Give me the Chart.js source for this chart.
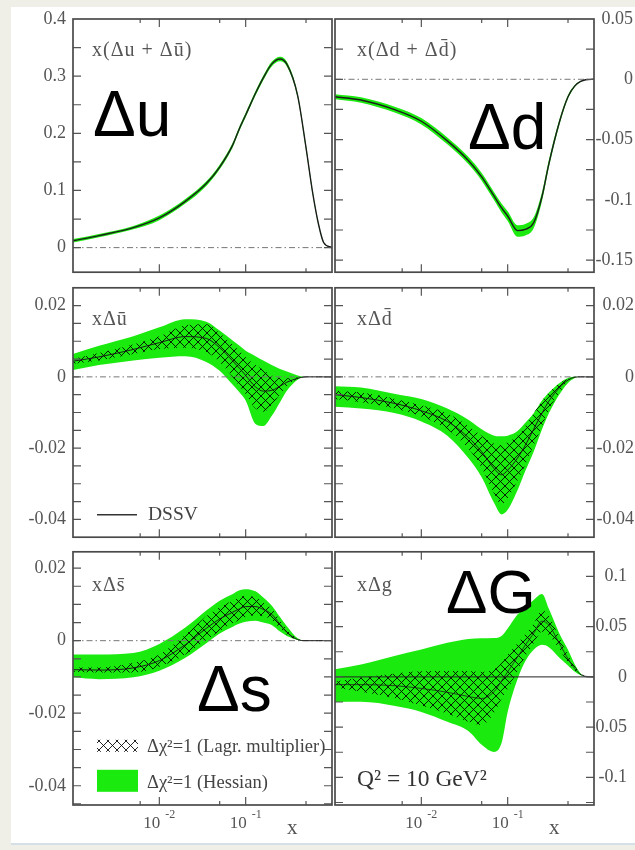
<!DOCTYPE html>
<html>
<head>
<meta charset="utf-8">
<script src="https://cdn.jsdelivr.net/npm/chart.js@4.4.1/dist/chart.umd.min.js"></script>
<style>
  html, body { margin: 0; padding: 0; }
  body { width: 635px; height: 850px; background: #efefe8; position: relative; overflow: hidden; }
  #sheet { position: absolute; left: 11px; top: 7px; width: 624px; height: 836px; background: #fff; border-bottom: 2px solid #d5dfe6; }
  canvas { position: absolute; }
  .big { position: absolute; font-family: "Liberation Sans", Arial, sans-serif; font-size: 64px; line-height: 1; color: #000; white-space: nowrap; }
</style>
</head>
<body>
<div id="sheet"></div>
<canvas id="pUV" width="334" height="290" style="left:0;top:0"></canvas>
<canvas id="pDV" width="301" height="290" style="left:334px;top:0"></canvas>
<canvas id="pUB" width="334" height="285" style="left:0;top:270px"></canvas>
<canvas id="pDB" width="301" height="285" style="left:334px;top:270px"></canvas>
<canvas id="pSB" width="334" height="316" style="left:0;top:534px"></canvas>
<canvas id="pG" width="301" height="316" style="left:334px;top:534px"></canvas>
<div class="big" style="left:93px;top:82px">Δu</div>
<div class="big" style="left:468px;top:95px">Δd</div>
<div class="big" style="left:197px;top:657px">Δs</div>
<div class="big" style="left:446px;top:561px;font-size:62px">ΔG</div>
<script>
// x grid shared by all panels (momentum fraction x)
const xGrid = [0.001, 0.002, 0.005, 0.01, 0.02, 0.035, 0.05, 0.07, 0.085, 0.1, 0.13, 0.16, 0.2, 0.25, 0.3, 0.4, 0.5, 0.6, 0.7, 0.8, 1.0];

// x(Δu + Δū)
const uvCentral = [0.012, 0.021, 0.035, 0.052, 0.081, 0.112, 0.141, 0.178, 0.209, 0.232, 0.27, 0.297, 0.321, 0.33, 0.321, 0.266, 0.175, 0.094, 0.04, 0.009, 0];
const uvHessHi = [0.015, 0.024, 0.038, 0.056, 0.085, 0.116, 0.145, 0.182, 0.213, 0.236, 0.274, 0.301, 0.325, 0.334, 0.325, 0.27, 0.179, 0.097, 0.042, 0.01, 0];
const uvHessLo = [0.009, 0.018, 0.032, 0.048, 0.077, 0.108, 0.137, 0.174, 0.205, 0.228, 0.266, 0.293, 0.317, 0.326, 0.317, 0.262, 0.171, 0.091, 0.038, 0.008, 0];

// x(Δd + Δd̄)
const dvCentral = [-0.0145, -0.0172, -0.0254, -0.0348, -0.0511, -0.0673, -0.0809, -0.0972, -0.1067, -0.1134, -0.1255, -0.1245, -0.119, -0.0972, -0.0701, -0.0348, -0.0145, -0.0055, -0.0018, -0.0004, 0];
const dvHessHi = [-0.0125, -0.015, -0.023, -0.0322, -0.0483, -0.0643, -0.0777, -0.0938, -0.103, -0.1095, -0.121, -0.12, -0.1145, -0.0935, -0.067, -0.0325, -0.013, -0.0047, -0.0014, -0.0003, 0];
const dvHessLo = [-0.0165, -0.0194, -0.0278, -0.0374, -0.0539, -0.0703, -0.0841, -0.1006, -0.1104, -0.1175, -0.1305, -0.1295, -0.1235, -0.101, -0.0732, -0.0371, -0.016, -0.0063, -0.0022, -0.0005, 0];

// xΔū
const ubCentral = [0.0044, 0.0056, 0.0077, 0.0096, 0.0113, 0.0108, 0.0082, 0.0046, 0.0024, 0.0004, -0.0028, -0.004, -0.0038, -0.0026, -0.0015, -0.0004, 0, 0, 0, 0, 0];
const ubHessHi = [0.0064, 0.0087, 0.0114, 0.0139, 0.0162, 0.0155, 0.013, 0.0103, 0.0087, 0.0073, 0.0058, 0.0046, 0.0033, 0.0022, 0.0015, 0.0004, 0, 0, 0, 0, 0];
const ubHessLo = [0.0019, 0.0033, 0.0046, 0.0054, 0.0058, 0.0042, 0.0017, -0.0021, -0.0044, -0.0066, -0.0132, -0.0138, -0.011, -0.0071, -0.0039, -0.0008, 0, 0, 0, 0, 0];
const ubLagrHi = [0.0051, 0.0067, 0.0091, 0.0114, 0.0145, 0.0148, 0.0123, 0.0091, 0.0073, 0.0055, 0.0033, 0.0019, 0.0004, -0.0003, -0.0004, -0.0002, 0, 0, 0, 0, 0];
const ubLagrLo = [0.0037, 0.0046, 0.0064, 0.0078, 0.0082, 0.0069, 0.0042, 0.0001, -0.0026, -0.0048, -0.0089, -0.0098, -0.008, -0.0048, -0.0026, -0.0005, 0, 0, 0, 0, 0];

// xΔd̄
const dbCentral = [-0.005, -0.0058, -0.0075, -0.0095, -0.0125, -0.017, -0.021, -0.0258, -0.0275, -0.0262, -0.0228, -0.0192, -0.0147, -0.0102, -0.0068, -0.003, -0.0009, -0.0001, 0, 0, 0];
const dbHessHi = [-0.0026, -0.003, -0.0048, -0.0062, -0.0089, -0.012, -0.0147, -0.0165, -0.0167, -0.0165, -0.0152, -0.0129, -0.0102, -0.0066, -0.0044, -0.0017, -0.0003, 0, 0, 0, 0];
const dbHessLo = [-0.0084, -0.0089, -0.0102, -0.0125, -0.0165, -0.0228, -0.0282, -0.0355, -0.0386, -0.0373, -0.0318, -0.0264, -0.021, -0.0147, -0.0102, -0.0048, -0.0017, -0.0003, 0, 0, 0];
const dbLagrHi = [-0.0039, -0.0044, -0.0062, -0.008, -0.0102, -0.0138, -0.0165, -0.0188, -0.0192, -0.0183, -0.0165, -0.0138, -0.0102, -0.0066, -0.0044, -0.0017, -0.0006, 0, 0, 0, 0];
const dbLagrLo = [-0.0062, -0.0071, -0.0089, -0.0111, -0.0147, -0.0201, -0.0255, -0.0328, -0.0359, -0.0341, -0.0291, -0.0246, -0.0192, -0.0138, -0.0093, -0.0044, -0.0012, -0.0001, 0, 0, 0];

// xΔs̄
const sbCentral = [-0.008, -0.0081, -0.0075, -0.0055, -0.0011, 0.0034, 0.006, 0.0078, 0.0088, 0.0094, 0.0094, 0.0086, 0.0073, 0.0045, 0.0023, 0.0003, 0, 0, 0, 0, 0];
const sbHessHi = [-0.0038, -0.0038, -0.0034, -0.0009, 0.0036, 0.0083, 0.011, 0.0128, 0.0139, 0.0142, 0.0136, 0.0119, 0.0097, 0.0065, 0.004, 0.0007, 0, 0, 0, 0, 0];
const sbHessLo = [-0.0101, -0.0106, -0.0101, -0.0083, -0.0047, -0.0007, 0.002, 0.0038, 0.0047, 0.0052, 0.0055, 0.005, 0.0043, 0.0025, 0.0013, 0.0002, 0, 0, 0, 0, 0];
const sbLagrHi = [-0.0074, -0.0074, -0.0061, -0.0038, 0.0016, 0.0067, 0.0092, 0.011, 0.0119, 0.0124, 0.0119, 0.0106, 0.0088, 0.0056, 0.0031, 0.0005, 0, 0, 0, 0, 0];
const sbLagrLo = [-0.0086, -0.0088, -0.0088, -0.0072, -0.0038, 0.0002, 0.0027, 0.0047, 0.0058, 0.0065, 0.007, 0.0067, 0.0058, 0.0034, 0.0016, 0.0002, 0, 0, 0, 0, 0];

// xΔg
const gCentral = [-0.0077, -0.0077, -0.0088, -0.0115, -0.0153, -0.0195, -0.0215, -0.0145, -0.004, 0.005, 0.0197, 0.0316, 0.0433, 0.0555, 0.0515, 0.0327, 0.018, 0.0082, 0.0025, 0.0006, 0];
const gHessHi = [0.0075, 0.0123, 0.0211, 0.0273, 0.0339, 0.0378, 0.0384, 0.0387, 0.0407, 0.0482, 0.0622, 0.0694, 0.0765, 0.0824, 0.0677, 0.0427, 0.027, 0.0123, 0.0035, 0.0003, 0];
const gHessLo = [-0.0251, -0.0248, -0.029, -0.0349, -0.0447, -0.0538, -0.0675, -0.0747, -0.0659, -0.0349, -0.0023, 0.0156, 0.027, 0.0319, 0.0296, 0.0189, 0.0114, 0.005, 0.0017, 0.0003, 0];
const gLagrHi = [-0.0049, -0.0007, 0.0035, 0.0055, 0.0058, 0.0058, 0.0049, 0.0075, 0.014, 0.0221, 0.0335, 0.0427, 0.0531, 0.0661, 0.0612, 0.0384, 0.0221, 0.0107, 0.0035, 0.001, 0];
const gLagrLo = [-0.0105, -0.0147, -0.0212, -0.0284, -0.0365, -0.0447, -0.0479, -0.0355, -0.0218, -0.0121, 0.0058, 0.0205, 0.0335, 0.0449, 0.0417, 0.027, 0.014, 0.0058, 0.0016, 0.0003, 0];

// axis labels
const uvYLabels = [0, 0.1, 0.2, 0.3, 0.4];
const dvYLabels = [0.05, 0, -0.05, -0.1, -0.15];
const seaYLabels = [0.02, 0, -0.02, -0.04];
const gYLabels = [0.1, 0.05, 0, -0.05, -0.1];
const xLabelValues = [0.01, 0.1];
const xLabelExps = ['-2', '-1'];

const GREEN = 'rgb(26, 234, 14)';
const SERIF = '"Liberation Serif", "Times New Roman", serif';
const TEXT = '#555';

function makeHatch() {
  const s = 9;
  const c = document.createElement('canvas');
  c.width = s; c.height = s;
  const g = c.getContext('2d');
  g.strokeStyle = 'rgba(0,0,0,0.85)';
  g.lineWidth = 1;
  g.beginPath();
  for (const k of [-s, 0, s]) {
    g.moveTo(k, 0); g.lineTo(k + s, s);
    g.moveTo(k + s, 0); g.lineTo(k, s);
  }
  g.stroke();
  return document.createElement('canvas').getContext('2d').createPattern(c, 'repeat');
}
const hatch = makeHatch();

function fmt(v) {
  const r = Math.round(v * 1000) / 1000;
  return r === 0 ? '0' : String(r);
}

function pts(arr) {
  return xGrid.map((x, i) => ({ x: x, y: arr[i] }));
}

// frame + inward tick marks on all four sides
const frameTicks = {
  id: 'frameTicks',
  afterDatasetsDraw(chart) {
    const { ctx, chartArea: a, scales: { x, y } } = chart;
    ctx.save();
    ctx.strokeStyle = '#555';
    ctx.lineWidth = 1.2;
    ctx.beginPath();
    x.ticks.forEach(t => {
      const m = t.value / Math.pow(10, Math.floor(Math.log10(t.value) + 1e-9));
      if (Math.abs(m - Math.round(m)) > 1e-6) return;
      const px = x.getPixelForValue(t.value);
      if (px <= a.left + 1 || px >= a.right - 1) return;
      const len = Math.round(m) === 1 ? 8 : 4;
      ctx.moveTo(px, a.top); ctx.lineTo(px, a.top + len);
      ctx.moveTo(px, a.bottom); ctx.lineTo(px, a.bottom - len);
    });
    y.ticks.forEach(t => {
      const py = y.getPixelForValue(t.value);
      if (py <= a.top + 1 || py >= a.bottom - 1) return;
      ctx.moveTo(a.left, py); ctx.lineTo(a.left + 8, py);
      ctx.moveTo(a.right, py); ctx.lineTo(a.right - 8, py);
    });
    ctx.stroke();
    ctx.lineWidth = 1.7;
    ctx.strokeStyle = '#4a4a4a';
    ctx.strokeRect(a.left, a.top, a.right - a.left, a.bottom - a.top);
    ctx.restore();
  }
};

function decor(title, dx, dy, extra) {
  return {
    id: 'decor',
    afterDraw(chart) {
      const { ctx, chartArea: a } = chart;
      ctx.save();
      ctx.fillStyle = TEXT;
      ctx.font = '20px ' + SERIF;
      ctx.letterSpacing = '1px';
      ctx.textBaseline = 'middle';
      ctx.textAlign = 'left';
      ctx.fillText(title, a.left + dx, a.top + dy);
      ctx.restore();
      if (extra) extra(chart);
    }
  };
}

function drawXLabels(chart) {
  const { ctx, chartArea: a, scales: { x } } = chart;
  ctx.save();
  ctx.fillStyle = TEXT;
  ctx.textAlign = 'left';
  ctx.textBaseline = 'alphabetic';
  xLabelValues.forEach((v, i) => {
    const px = x.getPixelForValue(v);
    ctx.font = '17px ' + SERIF;
    const w1 = ctx.measureText('10').width;
    ctx.font = '12px ' + SERIF;
    const w2 = ctx.measureText(xLabelExps[i]).width;
    const start = px - (w1 + 5 + w2) / 2;
    ctx.font = '17px ' + SERIF;
    ctx.fillText('10', start, a.bottom + 23);
    ctx.font = '12px ' + SERIF;
    ctx.fillText(xLabelExps[i], start + w1 + 5, a.bottom + 13);
  });
  ctx.font = '21px ' + SERIF;
  ctx.fillText('x', a.right - 45, a.bottom + 29);
  ctx.restore();
}

function buildPanel(id, o) {
  const datasets = [];
  datasets.push({ data: pts(o.central), borderColor: '#1c1c1c', borderWidth: o.centralWidth || 1, pointRadius: 0, cubicInterpolationMode: 'monotone', fill: false });
  datasets.push({ data: [{ x: xGrid[0], y: 0 }, { x: xGrid[xGrid.length - 1], y: 0 }], borderColor: o.zeroColor, borderWidth: 1, borderDash: o.zeroDash, pointRadius: 0, fill: false });
  if (o.lagrHi) {
    datasets.push({ data: pts(o.lagrHi), borderWidth: 0, borderColor: 'rgba(0,0,0,0)', backgroundColor: hatch, pointRadius: 0, cubicInterpolationMode: 'monotone', fill: '+1' });
    datasets.push({ data: pts(o.lagrLo), borderWidth: 0, borderColor: 'rgba(0,0,0,0)', pointRadius: 0, cubicInterpolationMode: 'monotone', fill: false });
  }
  datasets.push({ data: pts(o.hessHi), borderWidth: 0, borderColor: 'rgba(0,0,0,0)', backgroundColor: GREEN, pointRadius: 0, cubicInterpolationMode: 'monotone', fill: '+1' });
  datasets.push({ data: pts(o.hessLo), borderWidth: 0, borderColor: 'rgba(0,0,0,0)', pointRadius: 0, cubicInterpolationMode: 'monotone', fill: false });

  return new Chart(document.getElementById(id), {
    type: 'line',
    data: { datasets: datasets },
    options: {
      responsive: false,
      animation: false,
      events: [],
      layout: { padding: o.padding },
      plugins: { legend: { display: false }, tooltip: { enabled: false } },
      scales: {
        x: { type: 'logarithmic', min: 0.001, max: 1, display: false },
        y: {
          type: 'linear', position: o.side, min: o.yMin, max: o.yMax,
          grid: { display: false, drawTicks: false },
          border: { display: false },
          ticks: {
            stepSize: o.step, includeBounds: false, autoSkip: false, padding: 7,
            crossAlign: o.side === 'right' ? 'far' : 'near',
            color: TEXT, font: { family: SERIF, size: 18 },
            callback: v => o.labels.some(l => Math.abs(l - v) < 1e-9) ? fmt(v) : ''
          },
          afterFit: s => { s.width = o.axisWidth; }
        }
      }
    },
    plugins: [frameTicks, decor(o.title, o.side === 'left' ? 19 : 22, o.titleY || 32, o.extra)]
  });
}

const dashDot = [6, 3, 1.5, 3];

buildPanel('pUV', {
  central: uvCentral, hessHi: uvHessHi, hessLo: uvHessLo, centralWidth: 1.4,
  yMin: -0.043, yMax: 0.4, step: 0.05, labels: uvYLabels,
  side: 'left', axisWidth: 73, padding: { left: 0, right: 2, top: 19, bottom: 13 },
  zeroColor: '#777', zeroDash: dashDot, title: 'x(Δu + Δū)'
});

buildPanel('pDV', {
  central: dvCentral, hessHi: dvHessHi, hessLo: dvHessLo, centralWidth: 1.4,
  yMin: -0.16, yMax: 0.05, step: 0.025, labels: dvYLabels,
  side: 'right', axisWidth: 39, padding: { left: 1, right: 2, top: 19, bottom: 13 },
  zeroColor: '#777', zeroDash: dashDot, title: 'x(Δd + Δd\u0304)'
});

buildPanel('pUB', {
  central: ubCentral, hessHi: ubHessHi, hessLo: ubHessLo, lagrHi: ubLagrHi, lagrLo: ubLagrLo,
  yMin: -0.045, yMax: 0.025, step: 0.005, labels: seaYLabels,
  side: 'left', axisWidth: 73, padding: { left: 0, right: 2, top: 13, bottom: 13 },
  zeroColor: '#777', zeroDash: dashDot, title: 'xΔū',
  extra: chart => {
    const { ctx, chartArea: a } = chart;
    ctx.save();
    ctx.strokeStyle = '#333';
    ctx.lineWidth = 1.5;
    ctx.beginPath();
    ctx.moveTo(a.left + 24, a.top + 227);
    ctx.lineTo(a.left + 64, a.top + 227);
    ctx.stroke();
    ctx.fillStyle = '#444';
    ctx.font = '19.5px ' + SERIF;
    ctx.textBaseline = 'middle';
    ctx.fillText('DSSV', a.left + 75, a.top + 227);
    ctx.restore();
  }
});

buildPanel('pDB', {
  central: dbCentral, hessHi: dbHessHi, hessLo: dbHessLo, lagrHi: dbLagrHi, lagrLo: dbLagrLo,
  yMin: -0.045, yMax: 0.025, step: 0.005, labels: seaYLabels,
  side: 'right', axisWidth: 40, padding: { left: 1, right: 1, top: 13, bottom: 13 },
  zeroColor: '#777', zeroDash: dashDot, title: 'xΔd\u0304'
});

buildPanel('pSB', {
  central: sbCentral, hessHi: sbHessHi, hessLo: sbHessLo, lagrHi: sbLagrHi, lagrLo: sbLagrLo,
  yMin: -0.0453, yMax: 0.0245, step: 0.005, labels: seaYLabels,
  side: 'left', axisWidth: 73, padding: { left: 0, right: 2, top: 13, bottom: 45 },
  zeroColor: '#777', zeroDash: dashDot, title: 'xΔs\u0304', titleY: 34,
  extra: chart => {
    const { ctx, chartArea: a } = chart;
    ctx.save();
    ctx.fillStyle = hatch;
    ctx.fillRect(a.left + 24, a.top + 188, 41, 12);
    ctx.fillStyle = GREEN;
    ctx.fillRect(a.left + 24, a.top + 218, 41, 22);
    ctx.fillStyle = '#444';
    ctx.font = '18.5px ' + SERIF;
    ctx.textBaseline = 'middle';
    ctx.fillText('Δχ²=1 (Lagr. multiplier)', a.left + 74, a.top + 195);
    ctx.fillText('Δχ²=1 (Hessian)', a.left + 74, a.top + 231);
    ctx.restore();
    drawXLabels(chart);
  }
});

buildPanel('pG', {
  central: gCentral, hessHi: gHessHi, hessLo: gHessLo, lagrHi: gLagrHi, lagrLo: gLagrLo, centralWidth: 0.8,
  yMin: -0.1275, yMax: 0.1245, step: 0.025, labels: gYLabels,
  side: 'right', axisWidth: 33, padding: { left: 1, right: 8, top: 13, bottom: 45 },
  zeroColor: '#222', zeroDash: [], title: 'xΔg', titleY: 34,
  extra: chart => {
    const { ctx, chartArea: a } = chart;
    ctx.save();
    ctx.fillStyle = '#333';
    ctx.font = '23.5px ' + SERIF;
    ctx.textBaseline = 'middle';
    ctx.fillText('Q² = 10 GeV²', a.left + 22, a.top + 228);
    ctx.restore();
    drawXLabels(chart);
  }
});
</script>
</body>
</html>
